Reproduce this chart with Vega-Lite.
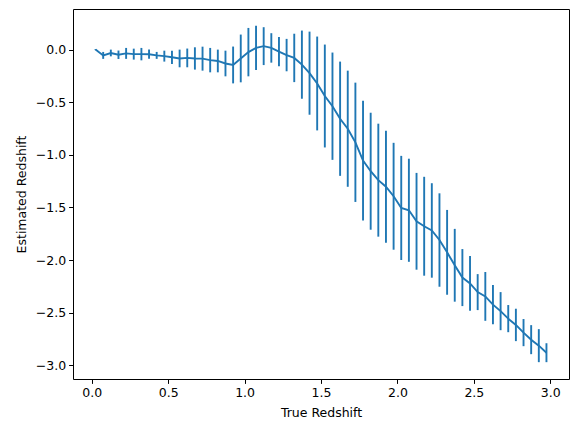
{
  "$schema": "https://vega.github.io/schema/vega-lite/v6.json",
  "width": 496,
  "height": 370,
  "autosize": "none",
  "padding": {"left": 73, "top": 9, "right": 9, "bottom": 53},
  "config": {
    "view": {"stroke": "black", "strokeWidth": 1},
    "axis": {
      "grid": false,
      "domain": false,
      "ticks": true,
      "tickColor": "black",
      "tickSize": 4.4,
      "tickWidth": 1,
      "labelFont": "DejaVu Sans",
      "labelFontSize": 12.5,
      "labelColor": "black",
      "labelPadding": 3,
      "titleFont": "DejaVu Sans",
      "titleFontSize": 12.5,
      "titleFontWeight": "normal",
      "titleColor": "black"
    }
  },
  "data": {
    "values": [
      {"true_z": 0.025, "est_z": 0.0, "err": 0.005},
      {"true_z": 0.075, "est_z": -0.055, "err": 0.033},
      {"true_z": 0.125, "est_z": -0.032, "err": 0.032},
      {"true_z": 0.175, "est_z": -0.049, "err": 0.04},
      {"true_z": 0.225, "est_z": -0.036, "err": 0.052},
      {"true_z": 0.275, "est_z": -0.043, "err": 0.052},
      {"true_z": 0.325, "est_z": -0.043, "err": 0.059},
      {"true_z": 0.375, "est_z": -0.044, "err": 0.044},
      {"true_z": 0.425, "est_z": -0.055, "err": 0.033},
      {"true_z": 0.475, "est_z": -0.062, "err": 0.052},
      {"true_z": 0.525, "est_z": -0.073, "err": 0.063},
      {"true_z": 0.575, "est_z": -0.084, "err": 0.084},
      {"true_z": 0.625, "est_z": -0.079, "err": 0.089},
      {"true_z": 0.675, "est_z": -0.084, "err": 0.106},
      {"true_z": 0.725, "est_z": -0.086, "err": 0.114},
      {"true_z": 0.775, "est_z": -0.1, "err": 0.116},
      {"true_z": 0.825, "est_z": -0.108, "err": 0.108},
      {"true_z": 0.875, "est_z": -0.132, "err": 0.122},
      {"true_z": 0.925, "est_z": -0.146, "err": 0.175},
      {"true_z": 0.975, "est_z": -0.084, "err": 0.227},
      {"true_z": 1.025, "est_z": -0.024, "err": 0.23},
      {"true_z": 1.075, "est_z": 0.016, "err": 0.21},
      {"true_z": 1.125, "est_z": 0.033, "err": 0.18},
      {"true_z": 1.175, "est_z": 0.016, "err": 0.14},
      {"true_z": 1.225, "est_z": -0.019, "err": 0.14},
      {"true_z": 1.275, "est_z": -0.052, "err": 0.154},
      {"true_z": 1.325, "est_z": -0.079, "err": 0.23},
      {"true_z": 1.375, "est_z": -0.143, "err": 0.324},
      {"true_z": 1.425, "est_z": -0.224, "err": 0.395},
      {"true_z": 1.475, "est_z": -0.322, "err": 0.446},
      {"true_z": 1.525, "est_z": -0.441, "err": 0.489},
      {"true_z": 1.575, "est_z": -0.538, "err": 0.51},
      {"true_z": 1.625, "est_z": -0.657, "err": 0.543},
      {"true_z": 1.675, "est_z": -0.752, "err": 0.552},
      {"true_z": 1.725, "est_z": -0.881, "err": 0.567},
      {"true_z": 1.775, "est_z": -1.055, "err": 0.57},
      {"true_z": 1.825, "est_z": -1.156, "err": 0.556},
      {"true_z": 1.875, "est_z": -1.241, "err": 0.537},
      {"true_z": 1.925, "est_z": -1.303, "err": 0.532},
      {"true_z": 1.975, "est_z": -1.394, "err": 0.508},
      {"true_z": 2.025, "est_z": -1.505, "err": 0.495},
      {"true_z": 2.075, "est_z": -1.527, "err": 0.49},
      {"true_z": 2.125, "est_z": -1.632, "err": 0.46},
      {"true_z": 2.175, "est_z": -1.679, "err": 0.47},
      {"true_z": 2.225, "est_z": -1.719, "err": 0.449},
      {"true_z": 2.275, "est_z": -1.81, "err": 0.444},
      {"true_z": 2.325, "est_z": -1.927, "err": 0.403},
      {"true_z": 2.375, "est_z": -2.05, "err": 0.346},
      {"true_z": 2.425, "est_z": -2.167, "err": 0.271},
      {"true_z": 2.475, "est_z": -2.222, "err": 0.26},
      {"true_z": 2.525, "est_z": -2.305, "err": 0.171},
      {"true_z": 2.575, "est_z": -2.346, "err": 0.232},
      {"true_z": 2.625, "est_z": -2.424, "err": 0.186},
      {"true_z": 2.675, "est_z": -2.486, "err": 0.181},
      {"true_z": 2.725, "est_z": -2.557, "err": 0.129},
      {"true_z": 2.775, "est_z": -2.617, "err": 0.154},
      {"true_z": 2.825, "est_z": -2.69, "err": 0.129},
      {"true_z": 2.875, "est_z": -2.757, "err": 0.138},
      {"true_z": 2.925, "est_z": -2.814, "err": 0.157},
      {"true_z": 2.975, "est_z": -2.881, "err": 0.09}
    ]
  },
  "encoding": {
    "x": {
      "field": "true_z",
      "type": "quantitative",
      "scale": {"domain": [-0.1225, 3.1225], "nice": false, "zero": false},
      "axis": {"title": "True Redshift", "values": [0, 0.5, 1, 1.5, 2, 2.5, 3], "format": ".1f", "titlePadding": 8}
    },
    "y": {
      "field": "est_z",
      "type": "quantitative",
      "scale": {"domain": [-3.131, 0.386], "nice": false, "zero": false},
      "axis": {"title": "Estimated Redshift", "values": [0, -0.5, -1, -1.5, -2, -2.5, -3], "format": ".1f", "titlePadding": 7}
    }
  },
  "layer": [
    {
      "mark": {"type": "errorbar", "color": "#1f77b4", "thickness": 1.9},
      "encoding": {
        "yError": {"field": "err"}
      }
    },
    {
      "mark": {"type": "line", "color": "#1f77b4", "strokeWidth": 1.9}
    }
  ]
}
